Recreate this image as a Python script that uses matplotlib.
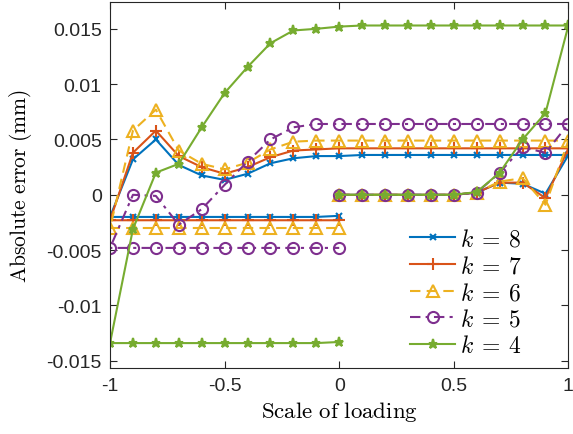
import numpy as np
import matplotlib
matplotlib.use("Agg")
import matplotlib.pyplot as plt

# loading path: 0 -> 1 -> -1 -> 0
load_up = [0.0, 0.1, 0.2, 0.3, 0.4, 0.5, 0.6, 0.7, 0.8, 0.9, 1.0]
load_back = [0.9, 0.8, 0.7, 0.6, 0.5, 0.4, 0.3, 0.2, 0.1, 0.0,
             -0.1, -0.2, -0.3, -0.4, -0.5, -0.6, -0.7, -0.8, -0.9, -1.0]
load_return = [-0.9, -0.8, -0.7, -0.6, -0.5, -0.4, -0.3, -0.2, -0.1, 0.0]

# absolute error (mm) along the path, one list per segment
k8_up = [0, 0, 0, 0, 0, 0, 0.0002, 0.0011, 0.0010, 0.0001, 0.0036]
k8_back = [0.0036, 0.0036, 0.0036, 0.0036, 0.0036, 0.0036, 0.0036, 0.0036, 0.0036, 0.0035,
           0.0035, 0.0033, 0.00285, 0.0019, 0.00135, 0.00175, 0.0027, 0.0050, 0.0032, -0.0020]
k8_return = [-0.0020, -0.0020, -0.0020, -0.0020, -0.0020, -0.0020, -0.0020, -0.0020, -0.0020, -0.0019]

k7_up = [0, 0, 0, 0, 0, 0, 0.0002, 0.0011, 0.0011, -0.0003, 0.0042]
k7_back = [0.0042, 0.0042, 0.0042, 0.0042, 0.0042, 0.0042, 0.0042, 0.0042, 0.0042, 0.0042,
           0.0041, 0.0040, 0.0034, 0.0025, 0.0019, 0.0025, 0.0035, 0.0058, 0.0038, -0.0023]
k7_return = [-0.0023, -0.0023, -0.0023, -0.0023, -0.0023, -0.0023, -0.0023, -0.0023, -0.0023, -0.0023]

k6_up = [0, 0, 0, 0, 0, 0, 0.0002, 0.0012, 0.0015, -0.0009, 0.0049]
k6_back = [0.0049, 0.0049, 0.0049, 0.0049, 0.0049, 0.0049, 0.0049, 0.0049, 0.0049, 0.0049,
           0.0049, 0.0048, 0.0041, 0.0029, 0.0023, 0.0028, 0.0040, 0.0077, 0.0058, -0.0030]
k6_return = [-0.0030, -0.0030, -0.0030, -0.0030, -0.0030, -0.0030, -0.0030, -0.0030, -0.0030, -0.0030]

k5_up = [0, 0, 0, 0, 0, 0, 0.0002, 0.0020, 0.0043, 0.0038, 0.0064]
k5_back = [0.0064, 0.0064, 0.0064, 0.0064, 0.0064, 0.0064, 0.0064, 0.0064, 0.0064, 0.0064,
           0.0064, 0.0061, 0.0050, 0.0030, 0.0009, -0.0013, -0.0027, -0.0001, 0.0000, -0.0048]
k5_return = [-0.0048, -0.0048, -0.0048, -0.0048, -0.0048, -0.0048, -0.0048, -0.0048, -0.0048, -0.0048]

k4_up = [0, 0, 0, 0, 0, 0, 0.00025, 0.0020, 0.0050, 0.0074, 0.0153]
k4_back = [0.0153, 0.0153, 0.0153, 0.0153, 0.0153, 0.0153, 0.0153, 0.0153, 0.0153, 0.0152,
           0.0150, 0.01485, 0.0137, 0.01155, 0.0092, 0.0061, 0.0028, 0.0020, -0.0031, -0.0134]
k4_return = [-0.0134, -0.0134, -0.0134, -0.0134, -0.0134, -0.0134, -0.0134, -0.0134, -0.0134, -0.0133]

x_ticks = [-1, -0.5, 0, 0.5, 1]
x_tick_labels = ["-1", "-0.5", "0", "0.5", "1"]
y_ticks = [-0.015, -0.01, -0.005, 0, 0.005, 0.01, 0.015]
y_tick_labels = ["-0.015", "-0.01", "-0.005", "0", "0.005", "0.01", "0.015"]


def main():
    plt.rcParams["font.family"] = ["Liberation Sans", "DejaVu Sans"]
    plt.rcParams["mathtext.fontset"] = "cm"

    x = np.array(load_up + load_back + load_return)
    series = [
        (r"$k\:=\:8$", k8_up + k8_back + k8_return, dict(color=(0, 0.447, 0.741), ls="-", marker="x", ms=5, mew=1.5)),
        (r"$k\:=\:7$", k7_up + k7_back + k7_return, dict(color=(0.85, 0.325, 0.098), ls="-", marker="+", ms=8, mew=1.5)),
        (r"$k\:=\:6$", k6_up + k6_back + k6_return, dict(color=(0.929, 0.694, 0.125), ls="--", marker="^", ms=9,
                                                        mfc="none", mew=1.5, dashes=(5, 3))),
        (r"$k\:=\:5$", k5_up + k5_back + k5_return, dict(color=(0.494, 0.184, 0.556), ls="-.", marker="o", ms=8,
                                                        mfc="none", mew=1.5, dashes=(5, 2.5, 1.5, 2.5))),
        (r"$k\:=\:4$", k4_up + k4_back + k4_return, dict(color=(0.466, 0.674, 0.188), ls="-", marker="*", ms=6.5, mew=1.5)),
    ]

    fig = plt.figure(figsize=(5.73, 4.35), dpi=100)
    ax = fig.add_axes([0.192, 0.151, 0.800, 0.841])

    for label, y, style in series:
        ax.plot(x, y, lw=1.5, label=label, **style)

    ax.set_xlim(-1, 1)
    ax.set_ylim(-0.01568, 0.01738)
    ax.set_xticks(x_ticks)
    ax.set_xticklabels(x_tick_labels)
    ax.set_yticks(y_ticks)
    ax.set_yticklabels(y_tick_labels)

    dark = (0.15, 0.15, 0.15)
    ax.tick_params(direction="in", top=True, right=True, length=5, width=0.8,
                   labelsize=14, colors=dark, pad=6)
    for sp in ax.spines.values():
        sp.set_color(dark)
        sp.set_linewidth(0.8)

    ax.set_xlabel(r"$\mathrm{Scale\ of\ loading}$", fontsize=16.5, color="black", labelpad=3.5)
    ax.set_ylabel(r"$\mathrm{Absolute\ error\ (mm)}$", fontsize=15.5, color="black", labelpad=9)

    ax.legend(loc="upper left", bbox_to_anchor=(0.655, 0.382), frameon=False, fontsize=17,
              handlelength=1.9, handletextpad=0.2, labelspacing=0.2, borderaxespad=0.0,
              borderpad=0.0)

    fig.savefig("out.png", dpi=100)
    plt.close(fig)


if __name__ == "__main__":
    main()
